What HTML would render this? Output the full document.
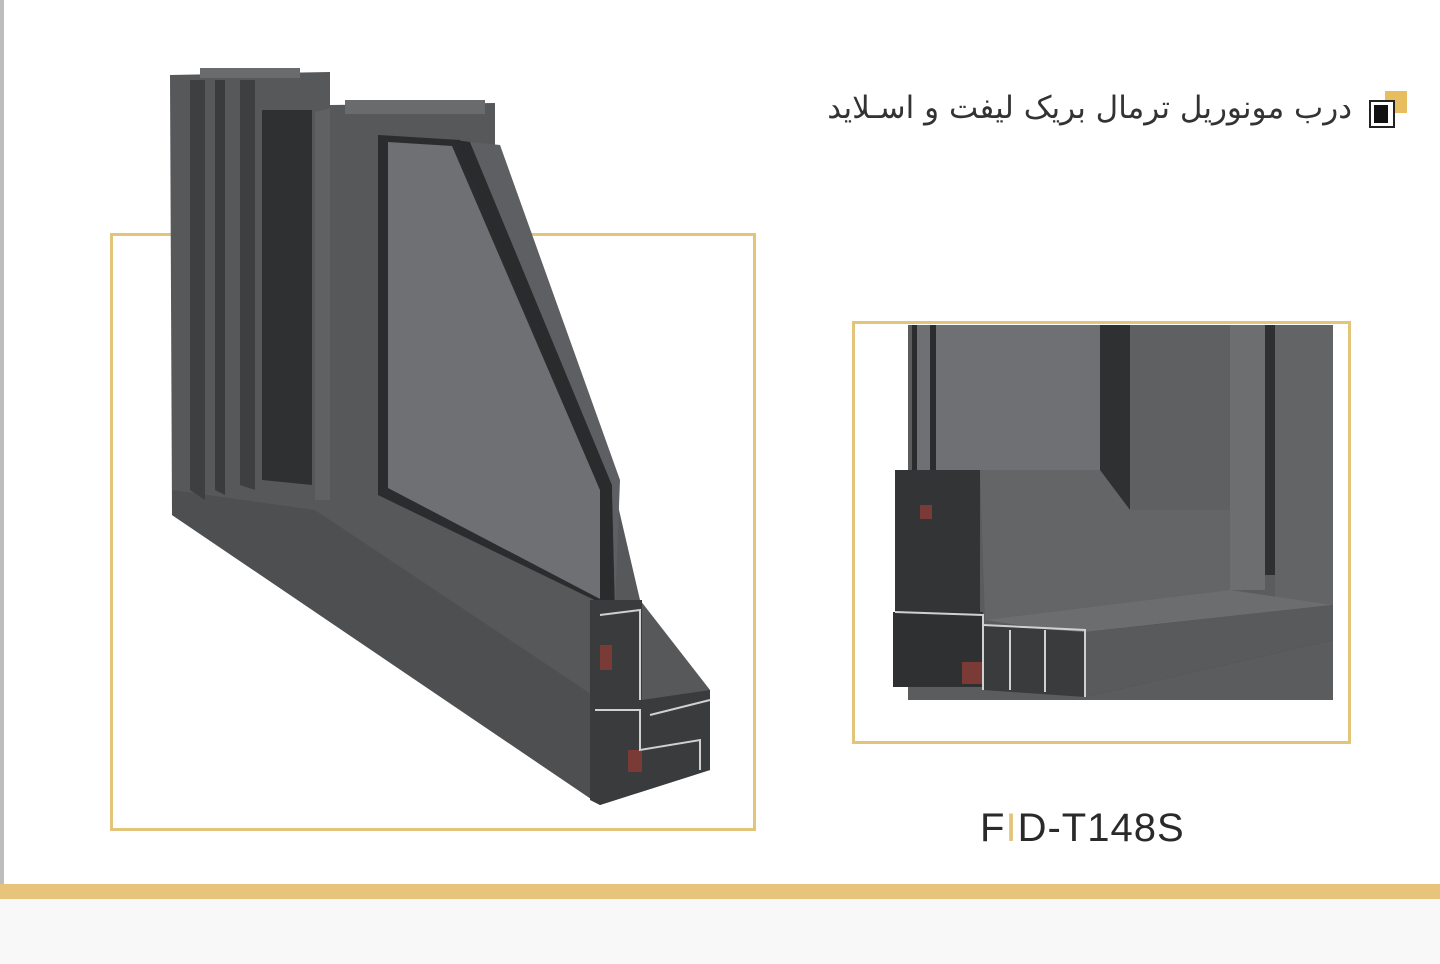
<!DOCTYPE html>
<html><head><meta charset="utf-8"><style>
html,body{margin:0;padding:0;background:#fff;}
body{width:1440px;height:964px;position:relative;overflow:hidden;font-family:"Liberation Sans",sans-serif;}
.t{position:absolute;right:88px;top:90px;font-family:"DejaVu Sans","Noto Sans CJK SC",sans-serif;font-size:31px;color:#333;direction:rtl;}
.lbl{position:absolute;left:980px;top:806px;font-size:40px;color:#2a2a2a;letter-spacing:1px;}
</style></head><body>
<svg width="1440" height="964" style="position:absolute;left:0;top:0">
<rect x="0" y="0" width="1440" height="964" fill="#fff"/>
<rect x="0" y="0" width="4" height="900" fill="#bdbdbd"/>
<rect x="0" y="899" width="1440" height="65" fill="#f8f8f8"/>
<rect x="0" y="884" width="1440" height="15" fill="#e8c37a"/>
<rect x="111.5" y="234.5" width="643" height="595" fill="none" stroke="#e2c47a" stroke-width="3"/>
<rect x="853.5" y="322.5" width="496" height="420" fill="none" stroke="#e2c47a" stroke-width="3"/>
<polygon points="170,75 330,72 330,105 495,103 495,150 612,480 640,600 710,690 710,770 600,805 172,515" fill="#57585a"/>
<polygon points="172,515 600,805 600,700 315,510 172,490" fill="#4e4f51"/>
<polygon points="190,80 205,80 205,500 190,490" fill="#3e3f41"/>
<polygon points="215,80 225,80 225,495 215,490" fill="#3a3b3d"/>
<polygon points="240,80 255,80 255,490 240,485" fill="#3e3f41"/>
<polygon points="262,110 312,110 312,485 262,480" fill="#2f3032"/>
<polygon points="315,112 330,108 330,500 315,500" fill="#606163"/>
<polygon points="378,135 460,140 612,490 615,610 378,495" fill="#2b2c2e"/>
<polygon points="388,142 452,146 600,490 602,600 388,488" fill="#6f7073"/>
<polygon points="455,140 470,142 612,485 612,610 600,610 600,490" fill="#2a2b2d"/>
<polygon points="470,142 500,145 620,480 615,610 612,485" fill="#5e5f62"/>
<polygon points="590,600 642,600 642,700 710,690 710,770 600,805 590,800" fill="#3a3b3d"/>
<rect x="600" y="645" width="12" height="25" fill="#7a3a35"/>
<rect x="628" y="750" width="14" height="22" fill="#7a3a35"/>
<polyline points="595,710 640,710 640,750 700,740 700,770" fill="none" stroke="#cfd0d2" stroke-width="2"/>
<polyline points="600,615 640,610 640,700" fill="none" stroke="#cfd0d2" stroke-width="2"/>
<polyline points="650,715 710,700" fill="none" stroke="#cfd0d2" stroke-width="2"/>
<rect x="200" y="68" width="100" height="10" fill="#6a6b6d"/>
<rect x="345" y="100" width="140" height="14" fill="#6a6b6d"/>
<rect x="908" y="325" width="425" height="375" fill="#5b5c5e"/>
<rect x="912" y="325" width="190" height="145" fill="#6f7073"/>
<rect x="912" y="325" width="5" height="150" fill="#2b2c2e"/>
<rect x="930" y="325" width="6" height="150" fill="#2b2c2e"/>
<rect x="1100" y="325" width="30" height="235" fill="#2f3032"/>
<rect x="1130" y="325" width="100" height="265" fill="#5f6062"/>
<rect x="1230" y="325" width="35" height="265" fill="#6d6e70"/>
<rect x="1265" y="325" width="10" height="250" fill="#2f3032"/>
<rect x="1275" y="325" width="58" height="280" fill="#636466"/>
<polygon points="980,470 1100,470 1130,510 1230,510 1230,590 985,620" fill="#646567"/>
<polygon points="985,620 1230,590 1333,605 1085,635" fill="#6c6d6f"/>
<rect x="895" y="470" width="85" height="145" fill="#333436"/>
<rect x="893" y="612" width="90" height="75" fill="#2f3032"/>
<polygon points="983,625 1085,632 1333,605 1333,640 1085,697 983,690" fill="#3a3b3d"/>
<polygon points="1085,632 1333,605 1333,640 1085,697" fill="#595a5c"/>
<rect x="962" y="662" width="22" height="22" fill="#7a3a35"/>
<rect x="920" y="505" width="12" height="14" fill="#7a3a35"/>
<polyline points="895,612 983,615 983,690" fill="none" stroke="#cfd0d2" stroke-width="2"/>
<polyline points="983,625 1085,630 1085,697" fill="none" stroke="#cfd0d2" stroke-width="2"/>
<line x1="1010" y1="630" x2="1010" y2="690" stroke="#cfd0d2" stroke-width="2"/>
<line x1="1045" y1="630" x2="1045" y2="692" stroke="#cfd0d2" stroke-width="2"/>
<rect x="1385" y="91" width="22" height="22" fill="#e8bd60"/>
<rect x="1370" y="101" width="24" height="26" fill="#fff" stroke="#222" stroke-width="2"/>
<rect x="1374" y="105" width="14" height="18" fill="#111"/>
</svg>
<div class="t">درب مونوریل ترمال بریک لیفت و اسـلاید</div>
<div class="lbl">F<span style="color:#e2c47a">I</span>D-T148S</div>
</body></html>
